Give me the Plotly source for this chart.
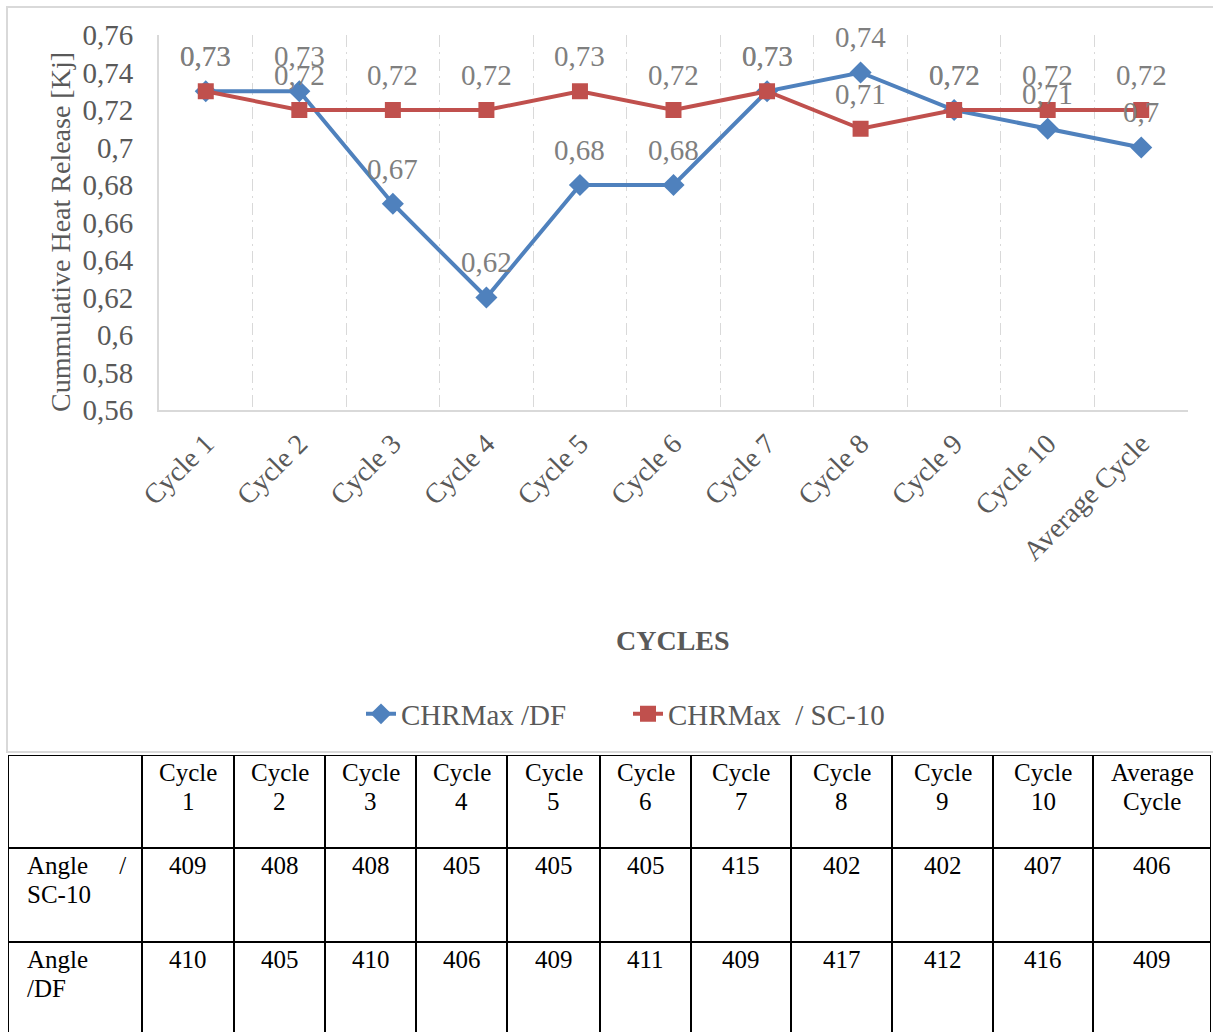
import plotly.graph_objects as go

categories = ["Cycle 1", "Cycle 2", "Cycle 3", "Cycle 4", "Cycle 5", "Cycle 6",
              "Cycle 7", "Cycle 8", "Cycle 9", "Cycle 10", "Average Cycle"]
chr_df = [0.73, 0.73, 0.67, 0.62, 0.68, 0.68, 0.73, 0.74, 0.72, 0.71, 0.70]
chr_sc10 = [0.73, 0.72, 0.72, 0.72, 0.73, 0.72, 0.73, 0.71, 0.72, 0.72, 0.72]

table_header = ["", "Cycle<br>1", "Cycle<br>2", "Cycle<br>3", "Cycle<br>4", "Cycle<br>5",
                "Cycle<br>6", "Cycle<br>7", "Cycle<br>8", "Cycle<br>9", "Cycle<br>10",
                "Average<br>Cycle"]
row_labels = ["Angle\u00a0\u00a0\u00a0\u00a0\u00a0/<br>SC-10", "Angle<br>/DF"]
angle_sc10 = [409, 408, 408, 405, 405, 405, 415, 402, 402, 407, 406]
angle_df = [410, 405, 410, 406, 409, 411, 409, 417, 412, 416, 409]

# layout (pixels)
W, H = 1213, 1032
col_widths = [134, 92, 91, 91, 91, 93, 91, 100, 101, 101, 100, 118]
row_heights = [93, 94, 90]
LINE_STEP = 29
FONT = "Liberation Serif"
BLUE = "#4F81BD"
RED = "#C0504D"
TICK = "#595959"
LABEL = "#7F7F7F"
GRID = "#D9D9D9"


def px(y):
    return 1 - y / H


def fmt(v):
    return format(v, "g").replace(".", ",")


fig = go.Figure()
fig.add_trace(go.Scatter(
    x=categories, y=chr_df, mode="lines+markers", name="CHRMax /DF",
    line=dict(color=BLUE, width=4),
    marker=dict(symbol="diamond", size=17, color=BLUE),
))
fig.add_trace(go.Scatter(
    x=categories, y=chr_sc10, mode="lines+markers", name="CHRMax\u00a0\u00a0/ SC-10",
    line=dict(color=RED, width=4),
    marker=dict(symbol="square", size=16, color=RED),
))

annotations = []
for series in (chr_sc10, chr_df):
    for c, v in zip(categories, series):
        annotations.append(dict(x=c, y=v, xref="x", yref="y", text=fmt(v),
                                showarrow=False, yshift=35,
                                font=dict(family=FONT, size=29, color=LABEL)))
annotations.append(dict(x=673 / W, y=px(640), xref="paper", yref="paper",
                        text="<b>CYCLES</b>", showarrow=False,
                        xanchor="center", yanchor="middle",
                        font=dict(family=FONT, size=28, color=TICK)))
annotations.append(dict(x=61 / W, y=px(232), xref="paper", yref="paper",
                        text="Cummulative Heat Release [Kj]", textangle=-90,
                        showarrow=False, xanchor="center", yanchor="middle",
                        font=dict(family=FONT, size=28, color=TICK)))

# ---- table drawn on its own axes (x2 / y2 in pixel-like units) ----
shapes = [dict(type="rect", xref="paper", yref="paper",
               x0=7 / W, x1=1.01, y0=px(752), y1=px(7),
               line=dict(color=GRID, width=2), layer="below")]
total_w = sum(col_widths)
total_h = sum(row_heights)
x_edges = [0]
for w in col_widths:
    x_edges.append(x_edges[-1] + w)
y_edges = [0]
for h in row_heights:
    y_edges.append(y_edges[-1] + h)
for xe in x_edges:
    shapes.append(dict(type="line", xref="x2", yref="y2", x0=xe, x1=xe, y0=0, y1=total_h + 5,
                       line=dict(color="black", width=2)))
for ye in y_edges[:-1]:
    shapes.append(dict(type="line", xref="x2", yref="y2", x0=0, x1=total_w, y0=ye, y1=ye,
                       line=dict(color="black", width=2)))

rows = [table_header,
        [row_labels[0]] + [str(v) for v in angle_sc10],
        [row_labels[1]] + [str(v) for v in angle_df]]
for r, row in enumerate(rows):
    for c, txt in enumerate(row):
        if not txt:
            continue
        for i, line in enumerate(txt.split("<br>")):
            yy = y_edges[r] + 17 + i * LINE_STEP
            if c == 0:
                annotations.append(dict(x=x_edges[0] + 17, y=yy, xref="x2", yref="y2",
                                        text=line, showarrow=False,
                                        xanchor="left", yanchor="middle",
                                        font=dict(family=FONT, size=25, color="black")))
            else:
                annotations.append(dict(x=(x_edges[c] + x_edges[c + 1]) / 2, y=yy,
                                        xref="x2", yref="y2", text=line, showarrow=False,
                                        xanchor="center", yanchor="middle",
                                        font=dict(family=FONT, size=25, color="black")))

fig.update_layout(
    width=W, height=H,
    margin=dict(l=0, r=0, t=0, b=0),
    paper_bgcolor="white", plot_bgcolor="white",
    separators=",.",
    font=dict(family=FONT, color=TICK),
    showlegend=True,
    legend=dict(orientation="h", x=628 / W, xanchor="center", y=px(714), yanchor="middle",
                font=dict(family=FONT, size=29, color=TICK),
                entrywidth=222, entrywidthmode="pixels",
                traceorder="normal"),
    xaxis=dict(domain=[159 / W, 1188 / W], type="category", automargin=False,
               range=[-0.5, len(categories) - 0.5],
               tickson="boundaries", showgrid=True, gridcolor=GRID, gridwidth=1,
               griddash="12px,5px,2px,5px",
               showline=True, linecolor=GRID, linewidth=2,
               ticks="", tickangle=-45, ticklabelstandoff=4,
               tickfont=dict(family=FONT, size=28, color=TICK)),
    yaxis=dict(domain=[px(410), px(35)], range=[0.56, 0.76], dtick=0.02, automargin=False,
               showgrid=False, zeroline=False,
               showline=True, linecolor=GRID, linewidth=2,
               ticks="", ticklabelstandoff=18,
               tickfont=dict(family=FONT, size=29, color=TICK)),
    xaxis2=dict(domain=[8 / W, 1211 / W], range=[0, total_w], visible=False,
                automargin=False, fixedrange=True),
    yaxis2=dict(domain=[0, px(755)], range=[277, 0], visible=False,
                automargin=False, fixedrange=True),
    annotations=annotations,
    shapes=shapes,
)

fig.write_html("out.html", config={"displayModeBar": False},
               post_script="document.body.style.margin='0';document.body.style.overflow='hidden';")
